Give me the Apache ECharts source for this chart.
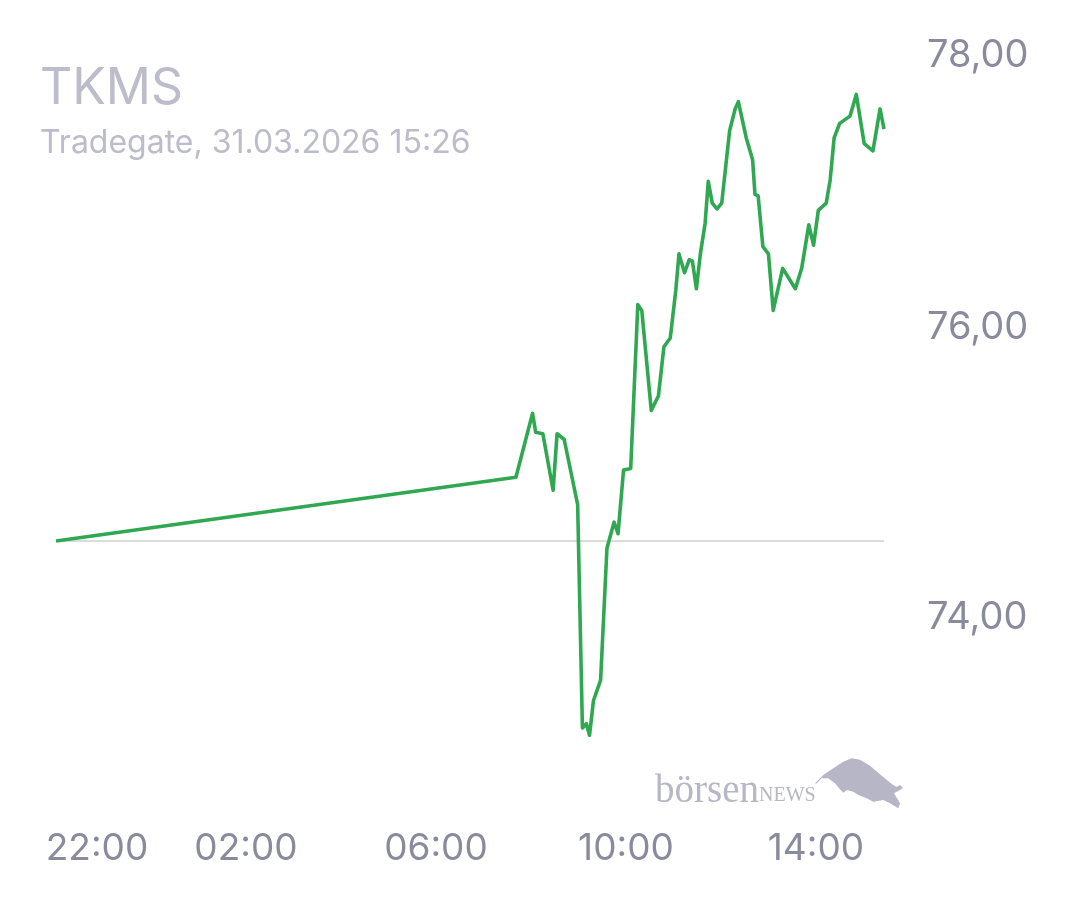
<!DOCTYPE html>
<html>
<head>
<meta charset="utf-8">
<script src="https://cdn.jsdelivr.net/npm/echarts@6/dist/echarts.min.js"></script>
<style>
html,body{margin:0;padding:0;background:#ffffff;}
#chart{width:1080px;height:900px;}
</style>
</head>
<body>
<div id="chart"></div>
<script>
// ---- data ----
const times = ["22:00","07:41","08:02","08:06","08:15","08:28","08:33","08:42","08:59","09:05","09:10","09:14","09:19","09:28","09:36","09:45","09:50","09:57","10:06","10:15","10:20","10:32","10:41","10:48","10:56","11:03","11:07","11:14","11:20","11:24","11:29","11:34","11:40","11:44","11:49","11:55","12:01","12:11","12:18","12:22","12:32","12:40","12:43","12:47","12:53","13:00","13:06","13:18","13:34","13:36","13:42","13:51","13:57","14:03","14:13","14:18","14:23","14:30","14:43","14:51","15:01","15:12","15:21","15:26"];
const prices = [74.50,74.94,75.38,75.25,75.24,74.85,75.24,75.20,74.75,73.21,73.24,73.16,73.40,73.54,74.45,74.63,74.55,74.99,75.00,76.13,76.09,75.40,75.50,75.84,75.90,76.23,76.48,76.35,76.44,76.43,76.24,76.48,76.69,76.98,76.83,76.79,76.83,77.33,77.48,77.53,77.28,77.13,76.89,76.88,76.53,76.48,76.09,76.38,76.24,76.24,76.38,76.68,76.54,76.78,76.83,76.99,77.28,77.38,77.43,77.58,77.24,77.19,77.48,77.34];
const previousClose = 74.50;
const xTickLabels = ["22:00","02:00","06:00","10:00","14:00"];
const yTickValues = [74, 76, 78];
const title = "TKMS";
const subtitle = "Tradegate, 31.03.2026 15:26";
const yMin = 72.8, yMax = 78;

// ---- helpers ----
const startTime = times[0];
function toMin(t){
  const [h,m] = t.split(":").map(Number);
  const [h0,m0] = startTime.split(":").map(Number);
  return ((h*60+m) - (h0*60+m0) + 1440) % 1440;
}
function fromMin(v){
  const [h0,m0] = startTime.split(":").map(Number);
  const tot = (h0*60+m0+v) % 1440;
  const h = Math.floor(tot/60), m = tot%60;
  return String(h).padStart(2,"0")+":"+String(m).padStart(2,"0");
}
const seriesData = times.map((t,i)=>[toMin(t), prices[i]]);
const xMax = toMin(times[times.length-1]);
const xTickValues = xTickLabels.map(toMin);

const chart = echarts.init(document.getElementById('chart'), null, {renderer:'canvas'});
const labelColor = '#8a8a9d';
const fam = 'Inter, "Noto Sans", sans-serif';
const serif = '"Liberation Serif", "DejaVu Serif", serif';
const yLabelStyle = {fontFamily:fam, fontSize:38, color:labelColor, lineHeight:40};

chart.setOption({
  animation:false,
  backgroundColor:'#ffffff',
  title:{
    text:title, subtext:subtitle, left:40, top:64, itemGap:13, padding:0,
    textStyle:{fontFamily:fam, fontSize:50, fontWeight:400, color:'#bcbcca', lineHeight:50},
    subtextStyle:{fontFamily:fam, fontSize:32, fontWeight:400, color:'#bcbcca', lineHeight:32}
  },
  grid:{left:56, right:196, top:33.5, bottom:112.5, containLabel:false, outerBoundsMode:'none'},
  xAxis:{
    type:'value', min:0, max:xMax,
    axisLine:{show:false}, axisTick:{show:false}, splitLine:{show:false},
    axisLabel:{
      customValues:xTickValues,
      margin:41, color:labelColor, fontFamily:fam, fontSize:37, lineHeight:40,
      formatter:(v)=> v===0 ? '{first|'+fromMin(v)+'}' : fromMin(v),
      rich:{first:{padding:[0,0,0,82], fontFamily:fam, fontSize:37, color:labelColor, lineHeight:40}}
    }
  },
  yAxis:{
    type:'value', position:'right', min:yMin, max:yMax,
    axisLine:{show:false}, axisTick:{show:false}, splitLine:{show:false},
    axisLabel:{
      customValues:yTickValues,
      margin:43, align:'left', color:labelColor, fontFamily:fam, fontSize:38,
      formatter:(v)=> {
        const s = v.toFixed(2).replace('.',',');
        return v===yMax ? '{top|'+s+'}' : '{n|'+s+'}';
      },
      rich:{
        n:Object.assign({padding:[8,0,0,0]}, yLabelStyle),
        top:Object.assign({padding:[44,0,0,0]}, yLabelStyle)
      }
    }
  },
  series:[
    {
      type:'line', z:1, silent:true, showSymbol:false,
      data:[[0,previousClose],[xMax,previousClose]],
      lineStyle:{color:'#dcdcdc', width:2}
    },
    {
      type:'line', z:2, showSymbol:false, smooth:false,
      data:seriesData,
      lineStyle:{color:'#30a852', width:3.6, join:'round'}
    }
  ],
  graphic:[
    {
      type:'text', left:655, top:772, z:10,
      style:{
        text:'{a|börsen}{b|NEWS}',
        rich:{
          a:{fontFamily:serif, fontSize:39, fill:'#b6b6c6', verticalAlign:'bottom'},
          b:{fontFamily:serif, fontSize:20, fill:'#b6b6c6', verticalAlign:'bottom', padding:[0,0,5,0]}
        }
      }
    },
    {
      type:'polygon', z:10,
      shape:{points:[[815,783.3],[823.3,775],[833.3,768.3],[843.3,761.7],[851.7,758.3],[860,759.7],[870,765.7],[881.7,775.7],[891.7,784],[896.7,787],[900,785],[903,788],[899,790.5],[894,793.3],[900,803.3],[898.3,808.3],[890,803.3],[883.3,800],[873.3,801.7],[866.7,798.3],[858.3,795],[853.3,791.7],[846.7,790],[843.3,792.7],[840,789.3],[835,783.3],[828.3,778.3],[821.7,778.3],[816.5,783.5]]},
      style:{fill:'#b6b6c6'}
    }
  ]
});
</script>
</body>
</html>
